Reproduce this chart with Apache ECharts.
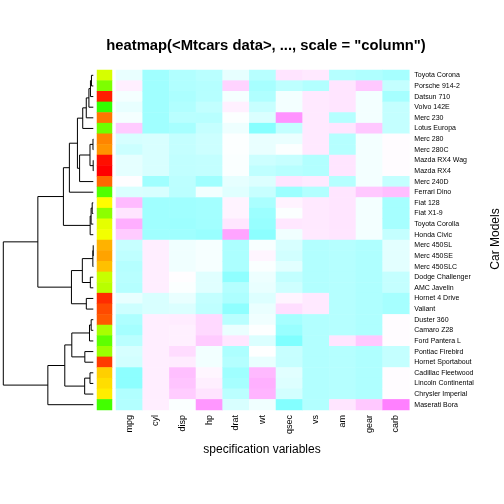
<!DOCTYPE html>
<html><head><meta charset="utf-8">
<script src="https://cdn.jsdelivr.net/npm/echarts@6/dist/echarts.min.js"></script>
<style>html,body{margin:0;padding:0;background:#fff}#c{width:504px;height:504px}</style>
</head><body><div id="c"></div>
<script>
// Rows in displayed order (top to bottom)
const carNames = ['Toyota Corona','Porsche 914-2','Datsun 710','Volvo 142E','Merc 230','Lotus Europa','Merc 280','Merc 280C','Mazda RX4 Wag','Mazda RX4','Merc 240D','Ferrari Dino','Fiat 128','Fiat X1-9','Toyota Corolla','Honda Civic','Merc 450SL','Merc 450SE','Merc 450SLC','Dodge Challenger','AMC Javelin','Hornet 4 Drive','Valiant','Duster 360','Camaro Z28','Ford Pantera L','Pontiac Firebird','Hornet Sportabout','Cadillac Fleetwood','Lincoln Continental','Chrysler Imperial','Maserati Bora'];
const variables = ['mpg','cyl','disp','hp','drat','wt','qsec','vs','am','gear','carb'];
const mpg  = [21.5,26.0,22.8,21.4,22.8,30.4,19.2,17.8,21.0,21.0,24.4,19.7,32.4,27.3,33.9,30.4,17.3,16.4,15.2,15.5,15.2,21.4,18.1,14.3,13.3,15.8,19.2,18.7,10.4,10.4,14.7,15.0];
const cyl  = [4,4,4,4,4,4,6,6,6,6,4,6,4,4,4,4,8,8,8,8,8,6,6,8,8,8,8,8,8,8,8,8];
const disp = [120.1,120.3,108.0,121.0,140.8,95.1,167.6,167.6,160.0,160.0,146.7,145.0,78.7,79.0,71.1,75.7,275.8,275.8,275.8,318.0,304.0,258.0,225.0,360.0,350.0,351.0,400.0,360.0,472.0,460.0,440.0,301.0];
const hp   = [97,91,93,109,95,113,123,123,110,110,62,175,66,66,65,52,180,180,180,150,150,110,105,245,245,264,175,175,205,215,230,335];
const drat = [3.70,4.43,3.85,4.11,3.92,3.77,3.92,3.92,3.90,3.90,3.69,3.62,4.08,4.08,4.22,4.93,3.07,3.07,3.07,2.76,3.15,3.08,2.76,3.21,3.73,4.22,3.08,3.15,2.93,3.00,3.23,3.54];
const wt   = [2.465,2.140,2.320,2.780,3.150,1.513,3.440,3.440,2.875,2.620,3.190,2.770,2.200,1.935,1.835,1.615,3.730,4.070,3.780,3.520,3.435,3.215,3.460,3.570,3.840,3.170,3.845,3.440,5.250,5.424,5.345,3.570];
const qsec = [20.01,16.70,18.61,18.60,22.90,16.90,18.30,18.90,17.02,16.46,20.00,15.50,19.47,18.90,19.90,18.52,17.60,17.40,18.00,16.87,17.30,19.44,20.22,15.84,15.41,14.50,17.05,17.02,17.98,17.82,17.42,14.60];
const vs   = [1,0,1,1,1,1,1,1,0,0,1,0,1,1,1,1,0,0,0,0,0,1,1,0,0,0,0,0,0,0,0,0];
const am   = [0,1,1,1,0,1,0,0,1,1,0,1,1,1,1,1,0,0,0,0,0,0,0,0,0,1,0,0,0,0,0,1];
const gear = [3,5,4,4,4,5,4,4,4,4,4,5,4,4,4,4,3,3,3,3,3,3,3,3,3,5,3,3,3,3,3,5];
const carb = [1,2,1,2,2,2,4,4,4,4,2,6,1,1,1,2,3,3,3,2,2,1,1,4,4,4,2,2,4,4,4,8];
// row side colour index (position of the car in the original data set)
const sideIndex = [20,26,2,31,8,27,9,10,1,0,7,29,17,25,19,18,12,11,13,21,22,3,5,6,23,28,24,4,14,15,16,30];
// dendrogram merges: [a, b, height]; negative = leaf (-(row+1)), positive = earlier merge (1-based)
const merges = [
  [-17,-18,0.4],[-9,-10,0.6],[-7,-8,1.5],[1,-19,2.1],[-13,-14,5.2],[-1,-2,8.7],[5,-15,10.4],
  [-24,-25,10.1],[6,-3,13.4],[-20,-21,14.0],[7,-16,14.8],[3,2,15.6],[9,-4,20.7],[8,-26,18.0],
  [-29,-30,15.6],[13,-5,33.2],[-22,-23,33.0],[-27,-28,40.0],[15,-31,40.8],[4,10,51.8],[16,-6,50.0],
  [12,-11,64.8],[21,22,75.0],[14,18,101.6],[20,17,103.3],[23,-12,113.0],[24,19,134.7],[26,11,141.2],
  [27,-32,214.8],[28,25,262.0],[30,29,425.3]
];

const columns = [mpg,cyl,disp,hp,drat,wt,qsec,vs,am,gear,carb];
function scaleCol(v){
  const n=v.length, m=v.reduce((a,b)=>a+b,0)/n;
  const sd=Math.sqrt(v.reduce((a,b)=>a+(b-m)*(b-m),0)/(n-1));
  return v.map(x=>(x-m)/sd);
}
const heatData=[]; let zmin=Infinity, zmax=-Infinity;
columns.map(scaleCol).forEach((col,j)=>col.forEach((z,i)=>{heatData.push([j,i,z]); zmin=Math.min(zmin,z); zmax=Math.max(zmax,z);}));
const sideData = sideIndex.map((v,i)=>[0,i,v]);

const nodePos=[];
function info(c){ return c<0 ? {y:-c-1+0.5,h:0} : nodePos[c-1]; }
const dendroData = merges.map(([a,b,h],k)=>{
  const A=info(a), B=info(b); nodePos[k]={y:(A.y+B.y)/2,h:h};
  return [h,A.y,B.y,A.h,B.h];
});
const rootH = merges[merges.length-1][2];

const FONT = '"Liberation Sans", Arial, Helvetica, sans-serif';
const chart = echarts.init(document.getElementById('c'), null, {renderer:'canvas'});
chart.setOption({
  animation:false,
  backgroundColor:'#fff',
  grid:[
    {left:116, top:70, width:293.3, height:340},
    {left:97, top:70, width:15, height:340},
    {left:3.3, top:70, width:90, height:340}
  ],
  xAxis:[
    {type:'category', gridIndex:0, data:variables, position:'bottom',
     axisLine:{show:false}, axisTick:{show:false}, splitLine:{show:false},
     axisLabel:{interval:0, rotate:90, fontSize:9, color:'#000', margin:5, fontFamily:FONT}},
    {type:'category', gridIndex:1, data:['side'], show:false},
    {type:'value', gridIndex:2, min:0, max:rootH, inverse:true, show:false}
  ],
  yAxis:[
    {type:'category', gridIndex:0, data:carNames, inverse:true, position:'right',
     axisLine:{show:false}, axisTick:{show:false}, splitLine:{show:false},
     axisLabel:{interval:0, fontSize:7, color:'#000', margin:5, fontFamily:FONT}},
    {type:'category', gridIndex:1, data:carNames, inverse:true, show:false},
    {type:'value', gridIndex:2, min:0, max:carNames.length, inverse:true, show:false}
  ],
  visualMap:[
    {type:'continuous', show:false, seriesIndex:0, dimension:2, min:zmin, max:zmax,
     inRange:{color:['#80FFFF','#FFFFFF','#FF80FF']}},
    {type:'continuous', show:false, seriesIndex:1, dimension:2, min:0, max:(sideIndex.length-1)*120/108,
     inRange:{color:['#FF0000','#FFFF00','#00FF00']}}
  ],
  series:[
    {type:'heatmap', xAxisIndex:0, yAxisIndex:0, data:heatData, progressive:0, emphasis:{disabled:true}},
    {type:'heatmap', xAxisIndex:1, yAxisIndex:1, data:sideData, progressive:0, emphasis:{disabled:true}},
    {type:'custom', xAxisIndex:2, yAxisIndex:2, data:dendroData, clip:false, silent:true,
     encode:{x:[0,3], y:[1,2]},
     renderItem:function(params, api){
       const h=api.value(0), y1=api.value(1), y2=api.value(2), h1=api.value(3), h2=api.value(4);
       return {type:'polyline', shape:{points:[api.coord([h1,y1]),api.coord([h,y1]),api.coord([h,y2]),api.coord([h2,y2])]},
               style:{stroke:'#000', lineWidth:1, fill:null}};
     }}
  ],
  graphic:[
    {type:'text', x:266, y:46, style:{text:'heatmap(<Mtcars data>, ..., scale = "column")', font:'bold 14.8px '+FONT, fill:'#000', textAlign:'center', textVerticalAlign:'middle'}},
    {type:'text', x:262, y:450, style:{text:'specification variables', font:'12px '+FONT, fill:'#000', textAlign:'center', textVerticalAlign:'middle'}},
    {type:'text', x:496, y:239, rotation:Math.PI/2, style:{text:'Car Models', font:'12px '+FONT, fill:'#000', textAlign:'center', textVerticalAlign:'middle'}}
  ]
});
</script></body></html>
